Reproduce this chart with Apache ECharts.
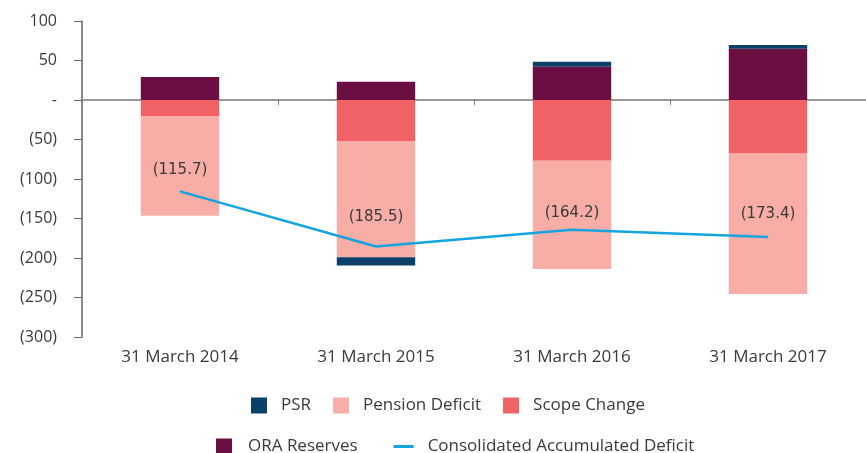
<!DOCTYPE html>
<html lang="en">
<head>
<meta charset="UTF-8">
<title>Accumulated Deficit</title>
<script src="https://cdn.jsdelivr.net/npm/echarts@6/dist/echarts.min.js"></script>
<style>
  html, body { margin: 0; padding: 0; background: #fff; }
</style>
</head>
<body>
<div id="main" style="width: 866px; height: 453px;"></div>
<script type="text/javascript">
const categories = ['31 March 2014', '31 March 2015', '31 March 2016', '31 March 2017'];
const psr = [null, -10.5, 6.3, 4.7];
const pensionDeficit = [-125.5, -147, -137, -178.5];
const scopeChange = [-21, -52, -77, -67];
const oraReserves = [29, 23, 42, 65];
const consolidatedDeficit = [-115.7, -185.5, -164.2, -173.4];
// distance of each line label above its point
const labelDistance = [13, 21, 9, 15];

const font = 'Open Sans';
const textColor = '#3a3a3a';

const fmt = v => v === 0 ? '-' : (v < 0 ? '(' + Math.abs(v) + ')' : String(v));

const chart = echarts.init(document.getElementById('main'));

chart.setOption({
  animation: false,
  textStyle: { fontFamily: font },
  grid: { left: 82, right: -6, top: 21, bottom: 116, containLabel: false },
  legend: [
    {
      top: 392, left: 246,
      itemWidth: 16, itemHeight: 16, itemGap: 22,
      textStyle: { fontFamily: font, fontSize: 17, color: textColor, padding: [0, 0, 0, 9] },
      data: [
        { name: 'PSR', icon: 'rect' },
        { name: 'Pension Deficit', icon: 'rect' },
        { name: 'Scope Change', icon: 'rect' }
      ]
    },
    {
      top: 433, left: 211,
      itemWidth: 20, itemHeight: 16, itemGap: 36,
      textStyle: { fontFamily: font, fontSize: 17, color: textColor, padding: [0, 0, 0, 9] },
      data: [
        { name: 'ORA Reserves', icon: 'path://M2,0 L18,0 L18,16 L2,16 Z' },
        { name: 'Consolidated Accumulated Deficit', icon: 'path://M0,0 L20,0 L20,3 L0,3 Z' }
      ]
    }
  ],
  xAxis: [
    {
      type: 'category',
      data: categories,
      axisLine: { onZero: true, lineStyle: { color: '#777', width: 1.5 } },
      axisTick: { show: true, length: 5, lineStyle: { color: '#777' } },
      axisLabel: { show: false },
      splitLine: { show: false }
    },
    {
      type: 'category',
      data: categories,
      position: 'bottom',
      axisLine: { show: false, onZero: false },
      axisTick: { show: false },
      axisLabel: { fontFamily: font, fontSize: 17, color: textColor, margin: 12 },
      splitLine: { show: false }
    }
  ],
  yAxis: {
    type: 'value',
    min: -300, max: 100, interval: 50,
    axisLine: { show: true, lineStyle: { color: '#666', width: 1.5 } },
    axisTick: { show: true, length: 8, lineStyle: { color: '#666' } },
    axisLabel: { fontFamily: font, fontSize: 16, color: textColor, margin: 25, formatter: fmt },
    splitLine: { show: false }
  },
  series: [
    {
      name: 'ORA Reserves', type: 'bar', stack: 'total', barWidth: '40%',
      itemStyle: { color: '#6b0f43' }, data: oraReserves
    },
    {
      name: 'Scope Change', type: 'bar', stack: 'total', barWidth: '40%',
      itemStyle: { color: '#f06266' }, data: scopeChange
    },
    {
      name: 'Pension Deficit', type: 'bar', stack: 'total', barWidth: '40%',
      itemStyle: { color: '#f8aea6' }, data: pensionDeficit
    },
    {
      name: 'PSR', type: 'bar', stack: 'total', barWidth: '40%',
      itemStyle: { color: '#0b4168' }, data: psr
    },
    {
      name: 'Consolidated Accumulated Deficit', type: 'line',
      symbol: 'circle', symbolSize: 1, showSymbol: true,
      lineStyle: { color: '#14a4e0', width: 2.5 },
      itemStyle: { color: '#14a4e0' },
      labelLayout: { hideOverlap: false },
      z: 5,
      data: consolidatedDeficit.map((v, i) => ({
        value: v,
        label: {
          show: true, position: 'top', distance: labelDistance[i],
          fontFamily: 'DejaVu Sans', fontSize: 15, color: textColor,
          formatter: p => fmt(p.value)
        }
      }))
    }
  ]
});
</script>
</body>
</html>
